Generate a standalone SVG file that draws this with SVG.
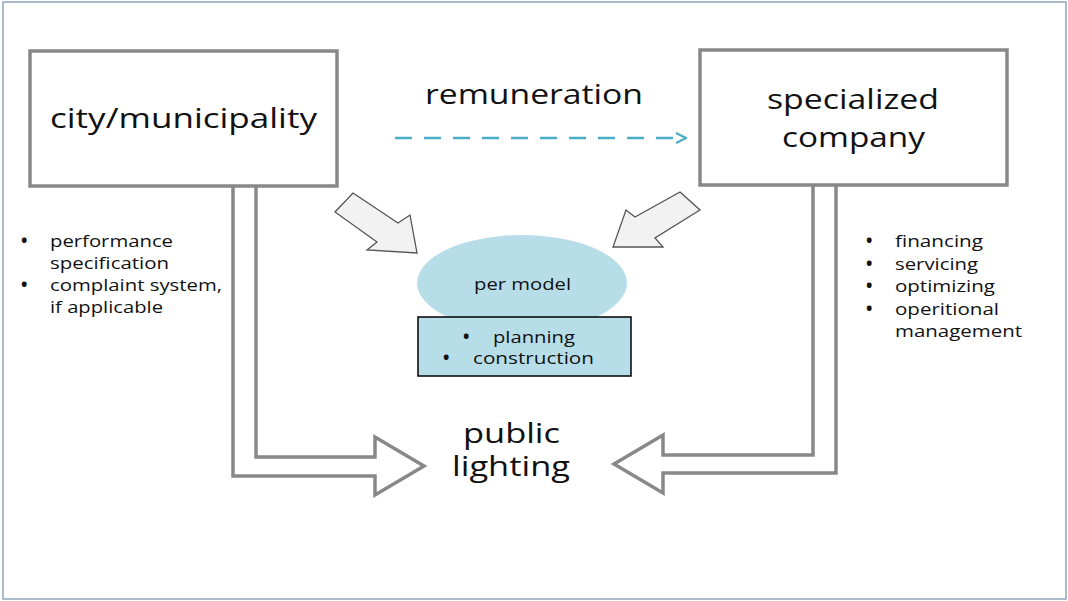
<svg xmlns="http://www.w3.org/2000/svg" width="1068" height="601" viewBox="0 0 1068 601">
  <style>
    text { font-family: "Open Sans", "Liberation Sans", sans-serif; fill: #111; }
    .big { font-size: 28px; }
    .small { font-size: 17px; }
    .dot { font-size: 17px; font-weight: bold; }
    .box { fill: #fff; stroke: #888; stroke-width: 3.5; }
    .flow { fill: #fff; stroke: #888; stroke-width: 3.5; stroke-linejoin: miter; }
    .push { fill: #f2f2f2; stroke: #555; stroke-width: 1.3; stroke-linejoin: miter; }
    .light { fill: #b7dde8; }
  </style>
  <defs>
    <marker id="chev" viewBox="0 0 12 12" refX="11" refY="6" markerWidth="12" markerHeight="12" markerUnits="userSpaceOnUse" orient="auto">
      <path d="M1,1 L11,6 L1,11" fill="none" stroke="#4bacc6" stroke-width="2.2"/>
    </marker>
  </defs>

  <!-- outer frame -->
  <rect x="3" y="2" width="1063" height="597" fill="#fff" stroke="#8fa5bf" stroke-width="1.5"/>

  <!-- connectors -->
  <g id="connectors">
    <!-- hollow flow arrows down to public lighting -->
    <path class="flow" d="M233,186 V476 H375 V495 L424,466 L375,437 V457 H256 V186"/>
    <path class="flow" d="M836,185 V473 H663 V493 L614,464 L663,435 V455 H813 V185"/>
    <!-- block arrows into the model -->
    <polygon class="push" points="353,193 398,223 410,215 417,253 367,250 377,242 335,212"/>
    <polygon class="push" points="680,192 700,210 655,238 663,247 613,247 626,210 635,217"/>
    <!-- remuneration flow -->
    <line x1="395" y1="138" x2="686" y2="138" stroke="#4bacc6" stroke-width="2.5" stroke-dasharray="17 12" marker-end="url(#chev)"/>
    <text class="big" x="425" y="104" textLength="218" lengthAdjust="spacingAndGlyphs">remuneration</text>
  </g>

  <g id="city">
    <rect class="box" x="30" y="51" width="307" height="135"/>
    <text class="big" x="50" y="128" textLength="267" lengthAdjust="spacingAndGlyphs">city/municipality</text>
  </g>

  <g id="company">
    <rect class="box" x="700" y="50" width="307" height="135"/>
    <text class="big" x="767" y="109" textLength="172" lengthAdjust="spacingAndGlyphs">specialized</text>
    <text class="big" x="782" y="147" textLength="143" lengthAdjust="spacingAndGlyphs">company</text>
  </g>

  <g id="city-tasks">
    <text class="dot" x="21" y="247">•</text>
    <text class="small" x="50" y="247" textLength="123" lengthAdjust="spacingAndGlyphs">performance</text>
    <text class="small" x="50" y="269" textLength="119" lengthAdjust="spacingAndGlyphs">specification</text>
    <text class="dot" x="21" y="291">•</text>
    <text class="small" x="50" y="291" textLength="172" lengthAdjust="spacingAndGlyphs">complaint system,</text>
    <text class="small" x="50" y="313" textLength="113" lengthAdjust="spacingAndGlyphs">if applicable</text>
  </g>

  <g id="company-tasks">
    <text class="dot" x="866" y="247">•</text>
    <text class="small" x="895" y="247" textLength="88" lengthAdjust="spacingAndGlyphs">financing</text>
    <text class="dot" x="866" y="270">•</text>
    <text class="small" x="895" y="270" textLength="83" lengthAdjust="spacingAndGlyphs">servicing</text>
    <text class="dot" x="866" y="292">•</text>
    <text class="small" x="895" y="292" textLength="100" lengthAdjust="spacingAndGlyphs">optimizing</text>
    <text class="dot" x="866" y="315">•</text>
    <text class="small" x="895" y="315" textLength="104" lengthAdjust="spacingAndGlyphs">operitional</text>
    <text class="small" x="895" y="337" textLength="127" lengthAdjust="spacingAndGlyphs">management</text>
  </g>

  <g id="per-model">
    <ellipse class="light" cx="522" cy="283" rx="105" ry="48"/>
    <text class="small" x="474" y="290" textLength="97" lengthAdjust="spacingAndGlyphs">per model</text>
  </g>

  <g id="planning">
    <rect class="light" x="418" y="317" width="213" height="59" stroke="#000" stroke-width="1.5"/>
    <text class="dot" x="463" y="343">•</text>
    <text class="small" x="493" y="343" textLength="82" lengthAdjust="spacingAndGlyphs">planning</text>
    <text class="dot" x="443" y="364">•</text>
    <text class="small" x="473" y="364" textLength="121" lengthAdjust="spacingAndGlyphs">construction</text>
  </g>

  <g id="public-lighting">
    <text class="big" x="463" y="443" textLength="97" lengthAdjust="spacingAndGlyphs">public</text>
    <text class="big" x="452" y="476" textLength="118" lengthAdjust="spacingAndGlyphs">lighting</text>
  </g>
</svg>
